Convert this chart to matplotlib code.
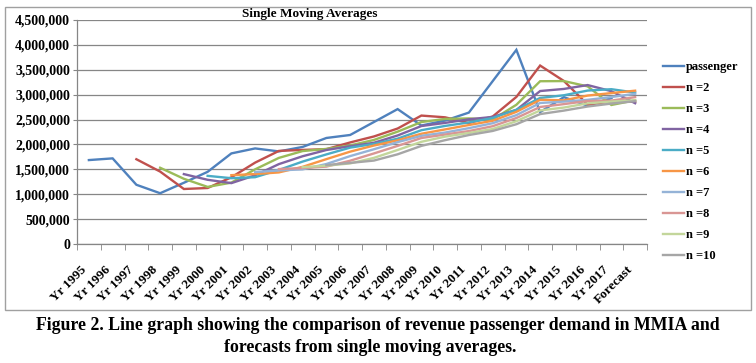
import numpy as np
import matplotlib
matplotlib.use("Agg")
import matplotlib.pyplot as plt
from matplotlib.patches import Rectangle
from matplotlib.ticker import FuncFormatter, MultipleLocator

# categories on the x axis
years = ['Yr 1995', 'Yr 1996', 'Yr 1997', 'Yr 1998', 'Yr 1999', 'Yr 2000',
         'Yr 2001', 'Yr 2002', 'Yr 2003', 'Yr 2004', 'Yr 2005', 'Yr 2006',
         'Yr 2007', 'Yr 2008', 'Yr 2009', 'Yr 2010', 'Yr 2011', 'Yr 2012',
         'Yr 2013', 'Yr 2014', 'Yr 2015', 'Yr 2016', 'Yr 2017', 'Forecast']

# values in thousands of passengers
passenger = [1686, 1720, 1190, 1020, 1230, 1450, 1820, 1920, 1860, 1950, 2130, 2190,
             2450, 2710, 2380, 2480, 2640, 3270, 3900, 2650, 2950, 2780, 2930, None]
n2 = [None]*2 + [1703, 1455, 1105, 1125, 1340, 1635, 1870, 1890, 1905, 2040, 2160,
                 2320, 2580, 2545, 2430, 2560, 2955, 3585, 3275, 2800, 2865, 2855]
n3 = [None]*3 + [1532, 1310, 1147, 1233, 1500, 1730, 1867, 1910, 1980, 2090, 2257,
                 2450, 2513, 2523, 2500, 2797, 3270, 3273, 3167, 2793, 2887]
n4 = [None]*4 + [1404, 1290, 1223, 1380, 1605, 1763, 1888, 1965, 2033, 2180, 2370,
                 2433, 2505, 2553, 2693, 3073, 3115, 3193, 3070, 2828]
n5 = [None]*5 + [1369, 1322, 1342, 1488, 1656, 1800, 1936, 2010, 2116, 2286, 2372,
                 2442, 2532, 2696, 2934, 2988, 3082, 3110, 3042]
n6 = [None]*6 + [1383, 1405, 1438, 1550, 1705, 1855, 1978, 2083, 2215, 2302, 2390,
                 2475, 2655, 2897, 2887, 2982, 3032, 3080]
n7 = [None]*7 + [1445, 1479, 1499, 1607, 1766, 1903, 2046, 2173, 2239, 2327, 2426,
                 2589, 2833, 2861, 2896, 2953, 3017]
n8 = [None]*8 + [1505, 1526, 1555, 1673, 1819, 1971, 2129, 2199, 2269, 2366, 2531,
                 2753, 2810, 2873, 2881, 2950]
n9 = [None]*9 + [1544, 1573, 1619, 1730, 1889, 2053, 2157, 2230, 2310, 2467, 2683,
                 2741, 2826, 2862, 2887]
n10 = [None]*10 + [1585, 1629, 1676, 1802, 1971, 2086, 2189, 2271, 2406, 2610, 2680,
                   2762, 2821, 2869]

series = [('passenger', passenger, '#4F81BD'),
          ('n =2', n2, '#C0504D'),
          ('n =3', n3, '#9BBB59'),
          ('n =4', n4, '#8064A2'),
          ('n =5', n5, '#4BACC6'),
          ('n =6', n6, '#F79646'),
          ('n =7', n7, '#95B3D7'),
          ('n =8', n8, '#D99694'),
          ('n =9', n9, '#C3D69B'),
          ('n =10', n10, '#A6A6A6')]

plt.rcParams['font.family'] = ['Liberation Serif', 'DejaVu Serif']
plt.rcParams['font.weight'] = 'bold'

fig = plt.figure(figsize=(7.56, 3.63), dpi=100)
ax = fig.add_axes([77/756, 1-244/363, 570/756, 224/363])

x = np.arange(len(years))
for name, vals, col in series:
    y = np.array([np.nan if v is None else v*1000 for v in vals], dtype=float)
    ax.plot(x, y, color=col, lw=1.7, label=name, solid_joinstyle='miter')

ax.set_xlim(-0.5, len(years)-0.5)
ax.set_ylim(0, 4500000)
ax.yaxis.set_major_locator(MultipleLocator(500000))
ax.yaxis.set_major_formatter(FuncFormatter(lambda v, p: f'{int(v):,}'))
ax.grid(axis='y', color='#868686', lw=0.9)
ax.set_axisbelow(True)

ax.set_xticks(x)
ax.set_xticklabels(years, rotation=45, ha='right', va='top', fontsize=9.5)
ax.set_xticks(np.arange(-0.5, len(years)), minor=True)
ax.tick_params(axis='x', which='major', length=0, pad=14)
ax.tick_params(axis='x', which='minor', length=4, color='#868686')
ax.tick_params(axis='y', length=3, color='#868686', labelsize=10, pad=2)

for s in ['top', 'right']:
    ax.spines[s].set_visible(False)
for s in ['left', 'bottom']:
    ax.spines[s].set_color('#868686')
    ax.spines[s].set_linewidth(0.9)

fig.text(310/756, 1-14/363, 'Single Moving Averages', ha='center', va='center',
         fontsize=9.5, fontweight='bold')

ax.legend(loc='upper left', bbox_to_anchor=(663/756, 1-61/363),
          bbox_transform=fig.transFigure, frameon=False, fontsize=9,
          handlelength=1.7, handletextpad=0.15, labelspacing=0.72,
          borderpad=0, borderaxespad=0)

# outer chart border
fig.patches.append(Rectangle((5/756, 1-310/363), 746/756, 303/363,
                             transform=fig.transFigure, fill=False,
                             edgecolor='#A0A0A0', lw=1))

fig.text(378/756, 1-326/363,
         'Figure 2. Line graph showing the comparison of revenue passenger demand in MMIA and',
         ha='center', va='center', fontsize=12.8, fontweight='bold')
fig.text(370/756, 1-347/363, 'forecasts from single moving averages.',
         ha='center', va='center', fontsize=12.8, fontweight='bold')

fig.savefig('out.png', dpi=100)
